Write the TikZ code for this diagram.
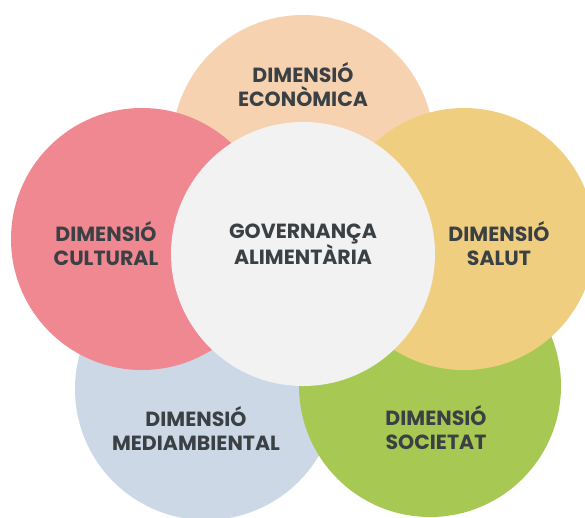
\documentclass[tikz,border=0pt]{standalone}
\usepackage{fontspec}
\setmainfont{Poppins}
\definecolor{ink}{HTML}{3A4044}
\definecolor{ecofill}{HTML}{F6D2B0}
\definecolor{culfill}{HTML}{F08891}
\definecolor{salfill}{HTML}{F0CE80}
\definecolor{medfill}{HTML}{CCD8E6}
\definecolor{socfill}{HTML}{A7C953}
\definecolor{govfill}{HTML}{F2F2F2}
\tikzset{
  dimcircle/.style={circle, fill=#1, minimum size=262pt, inner sep=0pt, outer sep=0pt},
  dimlabel/.style={text=ink, align=center, inner sep=0pt,
                   font=\fontsize{20.5}{24}\selectfont\bfseries},
}

\begin{document}
\begin{tikzpicture}[x=1pt, y=-1pt]
  \useasboundingbox (0,0) rectangle (585,517);
  % outer circles, back to front
  \node[dimcircle=ecofill] (eco) at (303,146) {};
  \node[dimcircle=medfill] (med) at (206,389) {};
  \node[dimcircle=socfill] (soc) at (430,386) {};
  \node[dimcircle=culfill] (cul) at (142,239) {};
  \node[dimcircle=salfill] (sal) at (464,239) {};
  % centre
  \node[dimcircle=govfill, minimum size=264pt] (gov) at (303,254) {};
  % labels
  \node[dimlabel] (ecotxt) at (303,85) {DIMENSIÓ\\ECONÒMICA};
  \node[dimlabel] (cultxt) at (106,244) {DIMENSIÓ\\CULTURAL};
  \node[dimlabel] (govtxt) at (303,244) {GOVERNANÇA\\ALIMENTÀRIA};
  \node[dimlabel] (saltxt) at (499,244) {DIMENSIÓ\\SALUT};
  \node[dimlabel] (medtxt) at (196,428) {DIMENSIÓ\\MEDIAMBIENTAL};
  \node[dimlabel] (soctxt) at (436,428) {DIMENSIÓ\\SOCIETAT};
\end{tikzpicture}
\end{document}
